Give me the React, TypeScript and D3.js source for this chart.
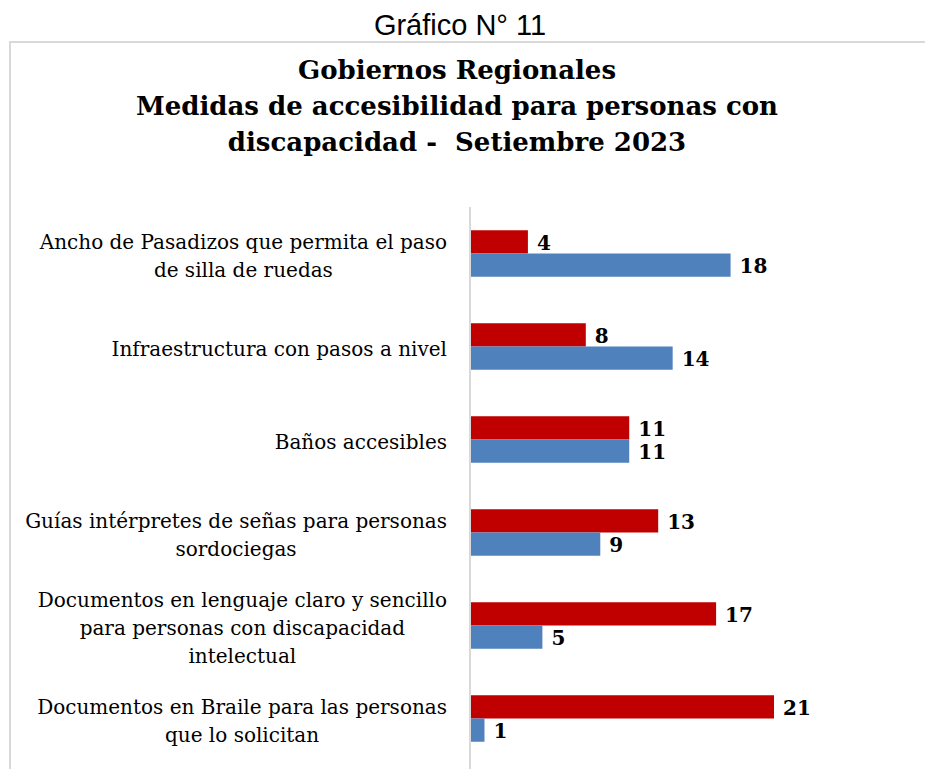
import { useEffect, useRef } from "react";
import * as d3 from "d3";

const categories = [
  ["Ancho de Pasadizos que permita el paso", "de silla de ruedas"],
  ["Infraestructura con pasos a nivel"],
  ["Baños accesibles"],
  ["Guías intérpretes de señas para personas", "sordociegas"],
  ["Documentos en lenguaje claro y sencillo", "para personas con discapacidad", "intelectual"],
  ["Documentos en Braile para las personas", "que lo solicitan"],
];
const redValues = [4, 8, 11, 13, 17, 21];
const blueValues = [18, 14, 11, 9, 5, 1];
const titleLines = [
  "Gobiernos Regionales",
  "Medidas de accesibilidad para personas con",
  "discapacidad -  Setiembre 2023",
];
const heading = "Gráfico N° 11";

export default function App() {
  const svgRef = useRef<SVGSVGElement | null>(null);

  useEffect(() => {
    document.body.style.margin = "0";
    const width = 925;
    const height = 769;
    const svg = d3.select(svgRef.current);
    svg.attr("width", width).attr("height", height);
    svg.selectAll("*").remove();

    svg.append("rect").attr("width", width).attr("height", height).attr("fill", "#fff");

    svg
      .append("text")
      .attr("x", 460)
      .attr("y", 35)
      .attr("text-anchor", "middle")
      .attr("font-family", "Liberation Sans, Arial, sans-serif")
      .attr("font-size", 29)
      .attr("fill", "#000")
      .text(heading);

    // frame, cropped at the right and bottom
    svg
      .append("path")
      .attr("d", `M10,${height + 5}V42H${width + 5}`)
      .attr("fill", "none")
      .attr("stroke", "#d9d9d9")
      .attr("stroke-width", 2);

    const title = svg
      .append("text")
      .attr("text-anchor", "middle")
      .attr("font-family", "DejaVu Serif, serif")
      .attr("font-weight", "bold")
      .attr("font-size", 26)
      .attr("fill", "#000")
      .style("white-space", "pre");
    titleLines.forEach((t, i) => {
      title.append("tspan").attr("x", 457).attr("y", 79 + i * 36).text(t);
    });

    const x = d3.scaleLinear().domain([0, 21]).range([470, 774]);
    const y = d3
      .scaleBand<number>()
      .domain(d3.range(categories.length))
      .range([207, 765])
      .paddingInner(0.5)
      .paddingOuter(0.25);
    const half = y.bandwidth() / 2;

    const series = [
      { values: redValues, color: "#C00000", offset: 0 },
      { values: blueValues, color: "#4F81BD", offset: half },
    ];

    series.forEach((s) => {
      svg
        .append("g")
        .selectAll("rect")
        .data(s.values)
        .join("rect")
        .attr("x", x(0))
        .attr("y", (_, i) => (y(i) as number) + s.offset)
        .attr("width", (d) => x(d) - x(0))
        .attr("height", half)
        .attr("fill", s.color);

      svg
        .append("g")
        .selectAll("text")
        .data(s.values)
        .join("text")
        .attr("x", (d) => x(d) + 9)
        .attr("y", (_, i) => (y(i) as number) + s.offset + half / 2 + 1)
        .attr("dy", "0.36em")
        .attr("font-family", "DejaVu Serif, serif")
        .attr("font-weight", "bold")
        .attr("font-size", 20)
        .attr("fill", "#000")
        .text((d) => d);
    });

    // vertical axis line
    svg
      .append("line")
      .attr("x1", x(0))
      .attr("x2", x(0))
      .attr("y1", 207)
      .attr("y2", height + 5)
      .attr("stroke", "#d9d9d9")
      .attr("stroke-width", 2);

    // category labels, lines centred on each other, block right-aligned
    const lineH = 28;
    categories.forEach((lines, i) => {
      const g = svg
        .append("text")
        .attr("text-anchor", "middle")
        .attr("font-family", "DejaVu Serif, serif")
        .attr("font-size", 20)
        .attr("fill", "#000");
      const cy = (y(i) as number) + y.bandwidth() / 2 + 2;
      const top = cy - ((lines.length - 1) * lineH) / 2;
      const spans = lines.map((t, j) =>
        g.append("tspan").attr("y", top + j * lineH).attr("dy", "0.36em").text(t)
      );
      const maxW = d3.max(spans, (sp) => (sp.node() as SVGTSpanElement).getComputedTextLength()) || 0;
      spans.forEach((sp) => sp.attr("x", 447 - maxW / 2));
    });
  }, []);

  return <svg ref={svgRef} style={{ display: "block" }} />;
}
